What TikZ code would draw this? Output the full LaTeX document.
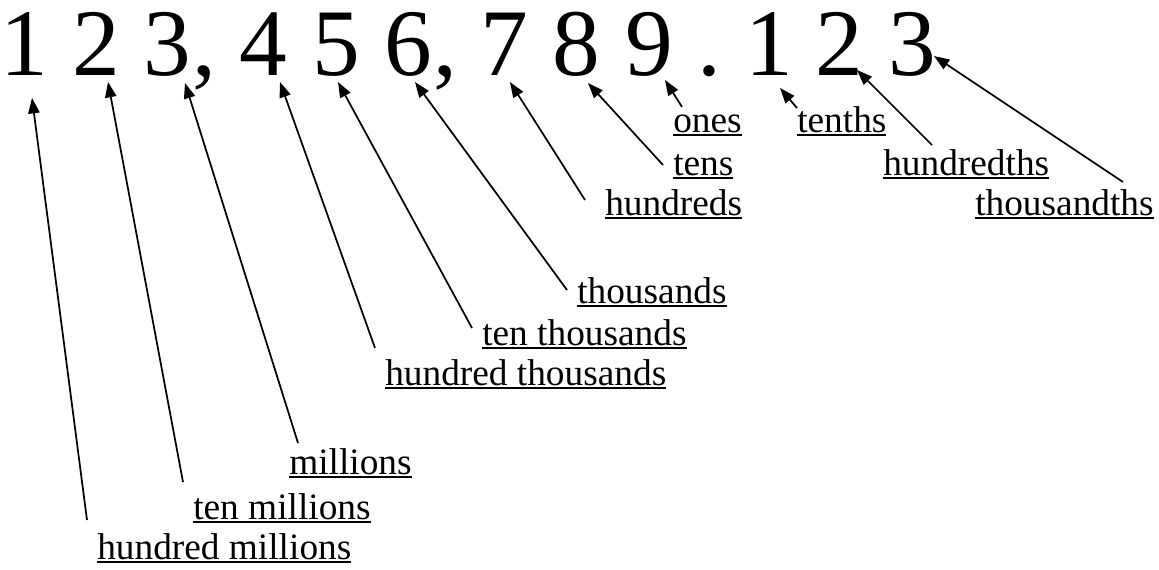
\documentclass[tikz,border=0pt]{standalone}
\usepackage{fontspec}
\setmainfont{Liberation Serif}
\usetikzlibrary{arrows.meta}
\newcommand{\ulab}[1]{\setbox0\hbox{#1}\rlap{\rule[-3.3pt]{\wd0}{2pt}}\box0}
\begin{document}
\begin{tikzpicture}[x=0.75pt,y=-0.75pt,
  digit/.style={inner sep=0pt, anchor=base, font=\fontsize{71.5}{80}\selectfont},
  lab/.style={inner sep=0pt, anchor=base west, font=\fontsize{28}{34}\selectfont},
  arr/.style={-{Triangle[length=11.5pt,width=8.5pt]}, line width=1.3pt}]
\useasboundingbox (0,0) rectangle (1159,569);
% digits
\node[digit] (d1) at (24.5,75) {1};
\node[digit] (d2) at (96,75) {2};
\node[digit] (d3) at (167.5,75) {3};
\node[digit] (c1) at (204,75) {,};
\node[digit] (d4) at (263.5,75) {4};
\node[digit] (d5) at (336.5,75) {5};
\node[digit] (d6) at (408,75) {6};
\node[digit] (c2) at (445,75) {,};
\node[digit] (d7) at (504,75) {7};
\node[digit] (d8) at (576.5,75) {8};
\node[digit] (d9) at (649,75) {9};
\node[digit] (pt) at (709,75) {.};
\node[digit] (e1) at (769,75) {1};
\node[digit] (e2) at (839,75) {2};
\node[digit] (e3) at (912,75) {3};
% labels
\node[lab] (lhm) at (97,559) {\ulab{hundred millions}};
\node[lab] (ltm) at (193,519) {\ulab{ten millions}};
\node[lab] (lm) at (289,474) {\ulab{millions}};
\node[lab] (lht) at (385,385) {\ulab{hundred thousands}};
\node[lab] (ltt) at (482,345) {\ulab{ten thousands}};
\node[lab] (lt) at (577,303) {\ulab{thousands}};
\node[lab] (lh) at (605,215) {\ulab{hundreds}};
\node[lab] (ltens) at (673,175) {\ulab{tens}};
\node[lab] (lones) at (673,132) {\ulab{ones}};
\node[lab] (ltenths) at (797,132) {\ulab{tenths}};
\node[lab] (lhd) at (883,175) {\ulab{hundredths}};
\node[lab] (lthd) at (975,215) {\ulab{thousandths}};
% arrows
\draw[arr] ([shift={(-10,-39)}]lhm.base west) -- ([shift={(7.5,23)}]d1.base);
\draw[arr] ([shift={(-10,-37)}]ltm.base west) -- ([shift={(12,7)}]d2.base);
\draw[arr] ([shift={(9,-31)}]lm.base west) -- ([shift={(17.5,8)}]d3.base);
\draw[arr] ([shift={(-10,-37)}]lht.base west) -- ([shift={(16.5,7)}]d4.base);
\draw[arr] ([shift={(-10,-17)}]ltt.base west) -- ([shift={(1.5,7)}]d5.base);
\draw[arr] ([shift={(-10,-13)}]lt.base west) -- ([shift={(7,7)}]d6.base);
\draw[arr] ([shift={(-20,-15)}]lh.base west) -- ([shift={(6,7)}]d7.base);
\draw[arr] ([shift={(-10,-10)}]ltens.base west) -- ([shift={(11.5,8)}]d8.base);
\draw[arr] ([shift={(9,-25)}]lones.base west) -- ([shift={(16,5)}]d9.base);
\draw[arr] ([shift={(0,-24)}]ltenths.base west) -- ([shift={(11,13)}]e1.base);
\draw[arr] ([shift={(49,-30)}]lhd.base west) -- ([shift={(18,-5)}]e2.base);
\draw[arr] ([shift={(148,-33)}]lthd.base west) -- ([shift={(22,-19)}]e3.base);
\end{tikzpicture}
\end{document}
